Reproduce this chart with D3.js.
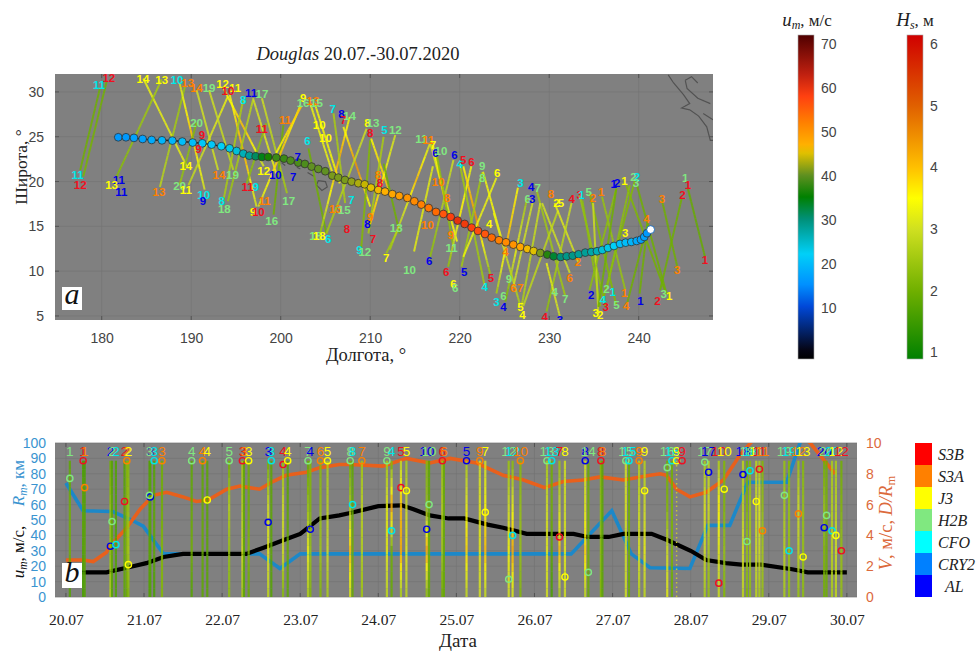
<!DOCTYPE html>
<html>
<head>
<meta charset="utf-8">
<script src="https://cdn.jsdelivr.net/npm/d3@7"></script>
<style>
	html, body { margin: 0; padding: 0; background: #fff; }
	svg { display: block; }
	text { font-family: "Liberation Serif", serif; }
	text.sans { font-family: "Liberation Sans", sans-serif; }
</style>
</head>
<body>
<div id="chart"></div>
<script>
/* --------------------- data ---------------------- */

// satellites, top to bottom as in the legend
const satNames = ['S3B', 'S3A', 'J3', 'H2B', 'CFO', 'CRY2', 'AL'];
const satColors = ['#f01020', '#ff8000', '#ffff00', '#80e880', '#00e8e8', '#0080ff', '#0000e8'];
const legendColors = ['#ff0000', '#ff8000', '#ffff00', '#80e880', '#00ffff', '#0080ff', '#0000ff'];

// storm track, 3-hourly from 20.07 (east) to 30.07 (west)
const trackLon = [241.33, 240.92, 240.62, 240.25, 239.77, 239.17, 238.54, 237.91, 237.23, 236.56,
	235.93, 235.34, 234.7, 234.03, 233.29, 232.62, 231.95, 231.28, 230.49, 229.79,
	229.0, 228.26, 227.55, 226.77, 225.99, 225.17, 224.39, 223.57, 222.82, 222.04,
	221.33, 220.55, 219.77, 218.99, 218.17, 217.35, 216.53, 215.71, 214.93, 214.15,
	213.25, 212.47, 211.65, 210.9, 210.08, 209.38, 208.67, 207.92, 207.18, 206.43,
	205.76, 204.98, 204.2, 203.45, 202.7, 201.96, 201.1, 200.36, 199.5, 198.6,
	197.9, 197.2, 196.49, 195.82, 195.07, 194.29, 193.36, 192.28, 191.24, 190.16,
	189.0, 187.89, 186.73, 185.58, 184.57, 183.6, 182.71, 181.85];
const trackLat = [14.64, 14.23, 13.82, 13.52, 13.37, 13.26, 13.18, 13.04, 12.81, 12.59,
	12.37, 12.22, 12.14, 12.07, 11.88, 11.73, 11.66, 11.59, 11.66, 11.85,
	12.03, 12.25, 12.48, 12.7, 12.96, 13.22, 13.45, 13.74, 14.15, 14.49,
	14.86, 15.27, 15.64, 16.05, 16.38, 16.61, 17.05, 17.43, 17.8, 18.17,
	18.39, 18.6, 18.88, 19.06, 19.32, 19.69, 19.81, 19.99, 20.18, 20.44,
	20.66, 21.15, 21.41, 21.67, 21.96, 22.11, 22.34, 22.56, 22.67, 22.75,
	22.75, 22.82, 22.89, 23.12, 23.41, 23.71, 23.94, 24.12, 24.27, 24.35,
	24.46, 24.57, 24.6, 24.64, 24.75, 24.87, 24.94, 24.94];
const trackUm = [16, 16, 17, 17, 18, 19, 20, 20, 22, 23, 24, 26, 27, 28, 28, 29, 29, 30, 33, 37,
	41, 45, 46, 48, 50, 51, 52, 54, 56, 57, 58, 59, 60, 58, 56, 54, 53, 52, 51, 50,
	49, 48, 47, 46, 45, 44, 43, 42, 41, 41, 41, 40, 40, 40, 39, 39, 39, 38, 38, 36,
	34, 31, 28, 26, 24, 23, 22, 21, 21, 20, 20, 19, 19, 18, 17, 17, 16, 16];

// altimeter passes on the map: lon1, lat1, lon2, lat2, then Hs along the pass
const passRows = [
	[179.8, 30.4, 177.6, 21.3, 2, 2],
	[180.55, 31.15, 177.94, 20.55, 2, 2.1],
	[184.65, 31.5, 189.5, 21.7, 3.3, 3.2],
	[186.7, 31.4, 181.5, 20.2, 2.6, 2.2],
	[189.3, 30.6, 186.5, 19.4, 2.4, 2.8],
	[188.7, 31, 191.5, 19.1, 3, 4, 3],
	[190.6, 26.6, 188.7, 19.6, 2.2, 2.4],
	[189.7, 19.6, 194.1, 29.5, 2.8, 3.3],
	[190.6, 30.2, 193, 21.3, 3, 3],
	[192, 30.2, 194.7, 21.3, 3, 2.8],
	[193.6, 30.4, 198.1, 21.7, 3.3, 4, 3],
	[194.3, 29.7, 197.3, 17.2, 3.3, 4.2, 3],
	[195.8, 29.1, 193.6, 17.9, 2.6, 2.6],
	[196.9, 29.1, 194.1, 17.8, 2.8, 2.4],
	[196.9, 29.3, 199.5, 20.9, 3, 3.3],
	[197.9, 29.3, 200.7, 18.7, 3, 2.5],
	[198.4, 26.5, 196.2, 19.8, 2.3, 2.3],
	[200.3, 26.3, 199.2, 16.3, 2, 2],
	[197.5, 17.2, 202.2, 28.5, 3, 4, 3.3],
	[199.5, 23.2, 202.3, 28.4, 3.5, 4],
	[203.3, 28.7, 205.9, 20.6, 3.3, 3.3],
	[203.8, 28.7, 206.6, 19.8, 3.4, 3.4],
	[203.1, 23.7, 205.1, 14.2, 2, 2],
	[204.4, 14.2, 207.7, 27.2, 2.3, 3.5, 4.2, 3.3],
	[205.9, 27.6, 207.2, 17.6, 2.6, 2.6],
	[207, 26.1, 210, 17.2, 3.3, 4.5, 3.3],
	[209.6, 25.9, 205.1, 14.2, 3, 2.5],
	[210, 24.6, 209, 12.7, 2.2, 2.2],
	[210.1, 24.8, 212.2, 18.7, 3.5, 4],
	[211.5, 25, 209.8, 14.2, 2.6, 2.6],
	[212.8, 25.2, 210, 15.3, 3, 3.5, 4],
	[211.5, 22, 213.3, 14.2, 2, 2],
	[213.1, 14.6, 211.8, 12, 2.5, 2.5],
	[216.7, 24.3, 219.7, 13.3, 3, 3.5],
	[212.2, 12.4, 216.7, 24.3, 2.5, 3, 4, 3],
	[217, 24.1, 218.5, 17.2, 3.4, 4],
	[217, 21.7, 214.9, 12.2, 3.2, 3.2],
	[219.3, 22.4, 216.7, 11.6, 3, 2.3],
	[217.4, 23.2, 219.3, 12.7, 2.3, 2.3],
	[221.3, 21.7, 218.7, 10.5, 3.3, 3.6, 2.3],
	[220, 22, 222.8, 8.3, 2.5, 2.5],
	[220.4, 21.7, 223.4, 9.7, 3.5, 4.5, 2.3],
	[222.5, 21, 220.2, 10.5, 2.5, 2.5],
	[224.1, 20.4, 220.4, 11.6, 3.3, 3.3],
	[222.6, 21.1, 224.7, 13.5, 3.3, 3.6],
	[223.8, 16.5, 226.7, 6.4, 3.3, 2.6],
	[226.5, 19.3, 224.1, 7.5, 3.5, 4, 2.5],
	[227.5, 18, 225.1, 6.6, 2.5, 3.3, 2],
	[228.2, 17.9, 226, 8.3, 3, 3],
	[228.6, 19, 231.8, 7.2, 2.5, 2.5],
	[229.2, 17.6, 232.3, 9.8, 3, 3],
	[229, 17.6, 226.9, 6, 3, 2.6],
	[231, 16.8, 227.1, 6.1, 2.8, 2.8],
	[230.6, 17.6, 233.3, 10.9, 3.2, 3],
	[232.5, 17.6, 229.7, 5.5, 3, 2.3],
	[229.7, 10.9, 231.2, 4.9, 3.3, 3],
	[233.4, 18.5, 236.3, 6, 2.5, 2.2],
	[233.7, 17.9, 235.7, 6.1, 2.3, 2.3],
	[234.5, 18.8, 237.5, 6.2, 2.2, 2.2],
	[234.9, 17.6, 235.5, 5.1, 3, 2.8],
	[235.9, 18.3, 238.5, 7.9, 2.4, 2.4],
	[237.5, 19.2, 234.5, 7.9, 2.3, 2.3],
	[237.5, 19.2, 235.5, 6, 2, 2],
	[238.6, 19.6, 242.9, 7.9, 2.2, 2],
	[239.6, 20.2, 236, 6.8, 2.2, 2.2],
	[239.8, 19.6, 243.1, 7.5, 2, 2],
	[239, 19.6, 236.4, 7.9, 2.3, 2.3],
	[241, 15.3, 240.1, 7.5, 2, 2],
	[241, 15.3, 238.7, 6.4, 2, 2],
	[242.6, 17.9, 244.4, 10.1, 2, 2],
	[244.8, 18.1, 242.4, 7.9, 2, 2],
	[245.5, 19.2, 247.4, 11.6, 1.9, 1.9]
];

// pass numbers on the map: satellite index, number, lon, lat
const mapLabelRows = [
	[0, 12, 180.8, 31.6], [4, 11, 179.7, 30.8], [4, 11, 177.3, 20.7], [0, 12, 177.6, 19.6],
	[2, 14, 184.6, 31.5], [2, 13, 186.7, 31.4], [4, 10, 188.4, 31.3], [1, 13, 189.6, 31],
	[1, 14, 190.6, 30.5], [3, 19, 192, 30.5], [2, 12, 193.5, 30.9], [2, 11, 194.9, 30.5],
	[0, 10, 194.1, 30.1], [6, 11, 196.7, 29.9], [4, 8, 195.8, 29.1], [3, 17, 197.9, 29.8],
	[6, 11, 181.9, 20.2], [6, 11, 182.2, 18.8], [2, 13, 181.1, 19.6], [1, 13, 186.4, 18.9],
	[3, 20, 188.7, 19.5], [2, 11, 189.4, 19.1], [3, 20, 190.6, 26.6], [2, 14, 189.4, 21.7],
	[0, 9, 191.2, 25.2], [0, 9, 190.8, 23.6], [4, 10, 191.4, 18.5], [6, 9, 191.3, 17.9],
	[1, 14, 193.1, 20.8], [3, 19, 194.6, 20.8], [4, 8, 193.4, 17.9], [3, 18, 193.7, 17],
	[0, 11, 196.3, 19.4], [4, 9, 197.2, 19.4], [0, 11, 197.9, 25.9], [1, 11, 200.5, 26.9],
	[2, 12, 198.1, 21.2], [6, 10, 199.4, 20.7], [3, 17, 200.9, 17.9], [1, 11, 198.2, 17.8],
	[2, 9, 196.9, 16.6], [0, 10, 197.5, 16.6], [3, 16, 199, 15.6], [2, 9, 202.5, 29.3],
	[3, 16, 202.5, 28.8], [1, 13, 203.6, 29], [3, 15, 204, 28.8], [4, 6, 203, 24.5],
	[6, 7, 201.9, 22.8], [6, 7, 201.4, 20.5], [2, 10, 204.3, 26.3], [2, 10, 205, 24.9],
	[4, 7, 205.8, 28.1], [6, 8, 206.8, 27.5], [0, 7, 207, 26.9], [3, 14, 207.7, 27.3],
	[4, 7, 207.9, 18], [1, 13, 206.1, 17], [3, 15, 207.1, 16.8], [0, 8, 207.4, 14.7],
	[3, 18, 203.9, 13.9], [2, 18, 204.3, 13.9], [4, 6, 205.3, 13.6], [2, 8, 209.7, 26.6],
	[3, 13, 210.3, 26.6], [0, 8, 210, 25.4], [4, 5, 211.6, 25.8], [3, 12, 212.8, 25.8],
	[6, 8, 209.7, 15.3], [1, 9, 210, 16.1], [0, 7, 210.3, 13.6], [4, 9, 208.8, 12.4],
	[3, 12, 209.4, 12.2], [2, 7, 211.8, 11.5], [1, 8, 210.9, 20.7], [0, 8, 211.1, 19.8],
	[3, 13, 212.9, 14.8], [3, 11, 215.7, 24.8], [1, 11, 216.5, 24.6], [2, 7, 217, 24.1],
	[6, 6, 217.3, 23.2], [3, 10, 217.9, 23.4], [6, 6, 219.4, 23], [4, 4, 220, 22],
	[0, 5, 220.4, 22.4], [0, 6, 221.3, 22.2], [3, 9, 222.5, 21.7], [3, 8, 222.5, 20.4],
	[2, 6, 224.2, 21], [4, 3, 226.8, 19.9], [6, 4, 228, 19.4], [3, 7, 228.7, 19.3],
	[3, 6, 227.6, 18.1], [6, 3, 228.1, 18.1], [1, 8, 230.2, 18.6], [2, 2, 230.8, 17.6],
	[2, 5, 231.3, 17.6], [0, 4, 232.5, 18.1], [0, 3, 233.4, 18.5], [4, 1, 233.6, 18.5],
	[3, 5, 234.4, 18.8], [1, 2, 234.9, 18.2], [1, 1, 235.8, 18.8], [6, 1, 237.2, 19.7],
	[6, 2, 237.6, 19.9], [2, 1, 238.4, 20.1], [3, 2, 239.4, 20.5], [4, 2, 239.8, 20.5],
	[3, 3, 239.7, 19.9], [1, 3, 242.6, 18.1], [0, 2, 244.9, 18.5], [3, 1, 245.2, 20.4],
	[0, 1, 245.5, 19.6], [0, 1, 247.4, 11.3], [1, 3, 244.3, 10.2], [1, 4, 240.9, 15.8],
	[2, 3, 238.5, 14.3], [1, 10, 216.4, 15.2], [3, 10, 214.4, 10.2], [6, 6, 216.6, 11.2],
	[1, 10, 217.6, 20], [1, 9, 219, 14], [3, 11, 219.1, 12.6], [1, 8, 218.6, 18.2],
	[0, 6, 218.5, 9.9], [6, 5, 220.5, 9.9], [2, 6, 219.3, 8.6], [3, 6, 219.5, 8.1],
	[4, 4, 222.8, 8.3], [0, 5, 223.5, 9.3], [2, 4, 223.3, 15.3], [1, 4, 225.1, 12.1],
	[3, 9, 225.5, 9.1], [1, 6, 226, 8.1], [1, 7, 226.8, 8.1], [4, 3, 224.1, 6.6],
	[3, 6, 224.9, 7.2], [6, 4, 224.9, 6], [2, 5, 226.8, 6], [2, 4, 227, 5.1],
	[0, 4, 229.5, 4.9], [6, 3, 231.2, 4.6], [3, 4, 230.6, 7.7], [3, 7, 231.8, 6.9],
	[1, 6, 232.3, 9.2], [1, 2, 233.2, 11], [6, 2, 234.7, 7.3], [3, 2, 236.4, 8],
	[4, 4, 236, 6.8], [4, 1, 237.1, 7.7], [1, 1, 238.4, 7.6], [3, 5, 237.5, 6.2],
	[0, 3, 236.3, 6], [2, 3, 235.2, 5.3], [2, 2, 235.7, 5.1], [1, 4, 238.6, 6.1],
	[6, 1, 240.2, 6.7], [0, 2, 242.1, 6.7], [3, 3, 242.8, 7.5], [2, 1, 243.4, 7.2]
];

// coast and islands, lon/lat
const coastLines = [
	[[243.3, 31.9], [243.9, 31], [245, 29.7], [245.7, 28.7], [244.8, 28.2], [245.7, 28], [246.7, 27.3], [247.6, 26.1], [248, 24.6], [248.3, 24.6]],
	[[245.2, 31.3], [245.4, 30.4], [246.6, 29.3], [248, 28.7]],
	[[245.2, 31.3], [245.9, 31.7], [246.6, 31]],
	[[247.2, 27.6], [248.3, 26.9]],
	[[204, 19.6], [204.2, 20.1], [205, 20], [205.2, 19.4], [204.6, 19], [204, 19.6]],
	[[200.1, 22.1], [200.5, 21.8]],
	[[201.8, 21.6], [202.2, 21.4]],
	[[203, 21], [203.7, 20.6]]
];

// panel b, time series; day 0 is 20.07
const umDays = [0, 0.22, 0.52, 0.86, 1.03, 1.25, 1.5, 2.31, 2.53, 2.79, 3, 3.25, 3.5, 3.64, 4.0, 4.3, 4.45, 4.66, 4.9, 5.1, 5.4, 5.6, 5.9, 6.2, 6.5, 6.68, 6.95, 7.14, 7.5, 7.7, 8.0, 8.2, 8.45, 8.65, 8.9, 9.3, 9.5, 10];
const umValues = [16, 16, 16, 20, 22, 26, 28, 28, 32, 37, 41, 51, 53, 54.5, 59, 59.5, 57, 53, 51, 51, 47, 45, 41, 41, 41, 39, 39, 41, 41, 37, 30, 24, 22, 21, 21, 18, 16, 16];
const rmDays = [0, 0.22, 0.6, 0.84, 0.99, 1.25, 2.48, 2.74, 3, 6.47, 6.99, 7.24, 7.48, 7.99, 8.22, 8.5, 8.73, 9.23, 9.4, 9.55];
const rmValues = [74, 56, 55.5, 50, 46, 28, 28, 18.5, 28, 28, 56, 28, 19, 18.5, 46.5, 46.5, 74.5, 74.5, 100, 115];
const vDays = [0, 0.22, 0.35, 0.52, 0.56, 0.78, 0.95, 1.12, 1.29, 1.5, 1.67, 1.82, 2.06, 2.23, 2.48, 2.65, 2.82, 3.08, 3.25, 3.5,
	3.64, 4.06, 4.36, 4.66, 4.92, 5.26, 5.6, 5.86, 6.13, 6.37, 6.62, 6.84, 7.14, 7.48, 7.61, 7.69, 7.82, 7.99, 8.2, 8.42, 8.63, 8.8, 9.4, 9.53, 9.85];
const vValues = [2.4, 2.4, 2.3, 2.9, 3.3, 4.5, 5.7, 6.6, 6.8, 6.5, 6.2, 6.3, 7, 7.2, 7, 7.5, 7.9, 8.1, 8.4, 8.6,
	8.6, 8.5, 9, 8.7, 9, 8.7, 7.9, 7.6, 7.1, 7.5, 7.6, 7.8, 7.6, 7.9, 8, 7.9, 7, 6.5, 6.8, 7.6, 9.2, 10.2, 10.6, 10, 8];

// panel b, passes: day, satellite index, number, marker D/Rm (null = none), Hs from bottom to top
const timePassRows = [
	[0.05, 3, 1, 7.7, 1.7, 2, 2, 1.8], [0.22, 0, 1, 8.85, 1.6, 1.7, 1.8, 1.6], [0.24, 1, 1, 7.1, 1.7, 1.8, 1.7, 1.6],
	[0.57, 6, 2, 3.3, 2.8, 2.4, 2.4, 2], [0.59, 3, 2, 4.9, 1.7, 1.9, 1.8, 1.7], [0.64, 4, 2, 3.4, 1.7, 1.7, 1.7, 1.7],
	[0.75, 0, 2, 6.2, 1.8, 1.9, 1.8, 1.7], [0.78, 1, 2, 8.85, 1.9, 2.2, 2.2, 2.2], [0.8, 2, 2, 2.1, 2.2, 2.6, 2.4, 2.2],
	[1.08, 6, 3, 6.5, 1.7, 1.7, 1.7, 1.7], [1.07, 3, 3, 6.6, 1.7, 1.8, 1.8, 1.7], [1.13, 4, 3, 8.85, 1.6, 1.8, 1.8, 1.7],
	[1.23, 1, 3, 8.85, 2.2, 2.2, 2, 2], [1.61, 3, 4, 8.85, 1.7, 2, 1.9, 1.8], [1.75, 1, 4, 8.85, 1.8, 1.9, 1.9, 1.8],
	[1.81, 2, 4, 6.3, 1.8, 1.8, 1.8, 1.8], [2.09, 3, 5, 8.85, 2.3, 2.4, 2.7, 2], [2.26, 0, 3, 8.85, 2.6, 3.1, 2.8, 2.6],
	[2.28, 1, 3, null, 1.8, 1.8, 1.8, 1.8], [2.34, 2, 3, 8.85, 1.9, 2.2, 2, 2], [2.59, 6, 3, 4.85, 2.8, 3.2, 3, 2],
	[2.63, 4, 3, 8.85, 1.7, 1.8, 1.8, 1.8], [2.78, 0, 4, 8.6, 2.2, 3, 3, 2.4], [2.84, 2, 4, 8.85, 1.8, 1.9, 1.8, 1.7],
	[3.1, 3, 7, 8.85, 2.6, 3.3, 2.4, 1.9], [3.13, 6, 4, 4.4, 2.2, 2.4, 2.2, 2.2], [3.26, 1, 6, 8.85, 2.2, 2.5, 2.4, 2.2],
	[3.35, 2, 5, 8.85, 2.6, 3, 2.8, 2.6], [3.64, 3, 8, 8.85, 3, 4, 2.6, 2], [3.67, 4, 8, 6, 1.9, 2, 1.9, 1.8],
	[3.79, 1, 7, 8.85, 2.5, 2.7, 2.8, 2.5], [4.11, 3, 9, 8.85, 2.8, 3.2, 3.2, 2.5], [4.17, 4, 4, 4.3, 1.9, 2, 4.3, 2],
	[4.29, 0, 5, 7.1, 2.5, 4.2, 4, 2.8], [4.36, 2, 5, 6.9, 2.8, 3.2, 3, 2.6], [4.62, 6, 10, 4.4, 2.2, 4.2, 2.4, 2.2],
	[4.65, 3, 10, 6, 1.9, 2, 1.9, 1.8], [4.82, 0, 6, 8.85, 2, 2.6, 2.8, 2.5], [4.84, 1, 6, null, 1.9, 1.9, 1.9, 1.9],
	[5.13, 6, 5, 8.85, 2.8, 3.8, 3.3, 2.6], [5.3, 1, 9, 8.85, 3, 3.2, 3.2, 3], [5.37, 2, 7, 5.5, 2.8, 4, 3.5, 3],
	[5.67, 3, 12, 1.15, 3, 3.4, 3, 2.4], [5.72, 4, 12, 4, 3, 4.2, 3.3, 2.2], [5.82, 1, 10, 8.85, 2.2, 2.4, 2.4, 2.2],
	[6.16, 3, 13, 8.85, 3, 3.2, 3, 2.6], [6.22, 4, 13, 8.85, 1.6, 1.8, 2, 2], [6.32, 0, 7, 3.9, 2.6, 4, 3, 2.4],
	[6.39, 2, 8, 1.3, 3, 3.2, 3, 3], [6.65, 6, 8, 8.85, 2.8, 3.8, 3.2, 3], [6.69, 3, 14, 1.6, 1.9, 2, 2, 1.9],
	[6.85, 0, 8, 8.85, 2.2, 2.3, 2.3, 2.2], [6.87, 1, 8, null, 1.8, 1.8, 1.8, 1.8], [7.17, 3, 15, 8.85, 3, 3, 3.1, 3],
	[7.21, 4, 15, 8.85, 1.9, 2, 2, 1.9], [7.34, 1, 9, 8.85, 2.7, 3.1, 2.9, 2.7], [7.41, 2, 9, 6.9, 2.8, 3.3, 3, 2.7],
	[7.7, 3, 16, 8.4, 3.2, 3, 2.2, 2], [7.76, 4, 16, 8.85, 1.9, 2.1, 2.1, 2], [8.18, 3, 17, 8.76, 2.6, 3, 3.1, 2.6],
	[8.23, 6, 17, 8.1, 2.4, 2.6, 3, 2.8], [8.36, 0, 10, 0.9, 2.9, 3.2, 3.6, 2.6], [8.43, 2, 10, 7, 2.2, 2.4, 2.2, 2.2],
	[8.67, 6, 18, 7.95, 2.8, 3.1, 2.8, 2.8], [8.72, 3, 18, 3.6, 2.2, 2.4, 2.2, 2], [8.76, 4, 18, 8.2, 2.3, 2.5, 2.5, 2.2],
	[8.84, 2, 11, 6.2, 2.8, 3, 3, 2.8], [8.88, 0, 11, 8.3, 2.6, 3, 3.2, 2.6], [8.92, 1, 11, 4.3, 2.4, 2.6, 2.4, 2.2],
	[9.2, 3, 19, 6.6, 2.6, 2.8, 2.6, 2.4], [9.26, 4, 19, 3, 2.4, 2.4, 2.4, 2.2], [9.38, 1, 12, 5.4, 2.4, 2.8, 3, 2.4],
	[9.44, 2, 13, 2.6, 2.3, 2.4, 2.4, 2.2], [9.71, 6, 20, 4.5, 2, 2.2, 2.4, 2], [9.74, 3, 20, 5.3, 2, 2, 2.1, 2],
	[9.81, 4, 20, 4.3, 2.6, 2.8, 2.7, 2.6], [9.86, 2, 12, 4, 2.8, 3, 2.8, 2.6], [9.93, 0, 12, 3, 2.4, 2.4, 2.2, 2]
];

// dotted J3 pass without a full trace, and its S3B neighbour
const dottedPassDays = [7.82];
const dottedPassMarkers = [[7.82, 2, 8.85], [7.89, 0, 8.85]];
const dottedPassLabels = [[7.82, 2, 9], [7.89, 0, 9]];

const dateTicks = ['20.07', '21.07', '22.07', '23.07', '24.07', '25.07', '26.07', '27.07', '28.07', '29.07', '30.07'];

// colormap stops
const umStops = [-2, 0, 10, 15, 22, 30, 35, 40, 45, 47, 52, 58, 63, 72];
const umColors = ['#000000', '#050514', '#0048d8', '#0090ff', '#00d0f8', '#009078', '#008000', '#609020', '#e0c000', '#ffb000', '#ff8000', '#ff4010', '#c02010', '#500000'];
const hsStops = [0.89, 2, 3, 3.5, 4, 5, 6.15];
const hsColors = ['#008000', '#70b000', '#d0e020', '#ffff00', '#ffc000', '#e06000', '#d00000'];

/* --------------------- setup ---------------------- */

const width = 978, height = 651;
const gray = '#808080', gridColor = '#747474', tickColor = '#4a4a4a';
const blue = '#3a94d0', orange = '#dc6a3c';
const textGray = '#444';

const svg = d3.select('#chart').append('svg').attr('width', width).attr('height', height);
const defs = svg.append('defs');

defs.append('filter').attr('id', 'soft')
	.append('feGaussianBlur').attr('stdDeviation', 0.5);

const umColor = d3.scaleLinear().domain(umStops).range(umColors).clamp(true);
const hsColor = d3.scaleLinear().domain(hsStops).range(hsColors).clamp(true);

function addClip(id, x, y, w, h) {
	defs.append('clipPath').attr('id', id)
		.append('rect').attr('x', x).attr('y', y).attr('width', w).attr('height', h);
}

function styleAxis(g, color, size, family) {
	g.select('.domain').remove();
	g.selectAll('line').remove();
	g.selectAll('text').attr('fill', color).style('font-size', size + 'px').style('font-family', family);
}

// short dark ticks inside the frame, all four sides
function edgeTicks(box, xValues, xScale, yValues, yScale) {
	let g = svg.append('g').attr('stroke', tickColor).attr('stroke-width', 0.8);
	[box.top, box.bottom].forEach(function(y, k) {
		g.append('g').selectAll('line').data(xValues).enter().append('line')
			.attr('x1', d => xScale(d)).attr('x2', d => xScale(d))
			.attr('y1', y).attr('y2', k === 0 ? y + 4 : y - 4);
	});
	[box.left, box.right].forEach(function(x, k) {
		g.append('g').selectAll('line').data(yValues).enter().append('line')
			.attr('y1', d => yScale(d)).attr('y2', d => yScale(d))
			.attr('x1', x).attr('x2', k === 0 ? x + 4 : x - 4);
	});
}

// panel letter in its white box
function panelLetter(x, y, w, h, letter) {
	svg.append('rect').attr('x', x).attr('y', y).attr('width', w).attr('height', h).attr('fill', '#fff');
	svg.append('text').attr('x', x + w / 2).attr('y', y + h - 6).attr('text-anchor', 'middle')
		.attr('font-style', 'italic').attr('font-size', 30).attr('fill', '#111').text(letter);
}

// one pass, split in short pieces coloured by Hs
function hsPieces(x1, y1, x2, y2, hs) {
	let t = d3.range(0, 17).map(d => d / 16);
	let hsAt = d3.piecewise(d3.interpolateNumber, hs);
	return d3.pairs(t).map(p => ({
		x1: x1 + (x2 - x1) * p[0], y1: y1 + (y2 - y1) * p[0],
		x2: x1 + (x2 - x1) * p[1], y2: y1 + (y2 - y1) * p[1],
		color: hsColor(hsAt((p[0] + p[1]) / 2))
	}));
}

/* --------------------- panel a ---------------------- */

const mapBox = {left: 55, right: 713, top: 74, bottom: 320};
const lonScale = d3.scaleLinear().domain([174.78, 248.3]).range([mapBox.left, mapBox.right]);
const latScale = d3.scaleLinear().domain([32, 4.55]).range([mapBox.top, mapBox.bottom]);
const lonTicks = d3.range(180, 250, 10);
const latTicks = d3.range(5, 35, 5);

addClip('mapClip', mapBox.left, mapBox.top, mapBox.right - mapBox.left, mapBox.bottom - mapBox.top);

svg.append('rect').attr('x', mapBox.left).attr('y', mapBox.top)
	.attr('width', mapBox.right - mapBox.left).attr('height', mapBox.bottom - mapBox.top).attr('fill', gray);

const mapGrid = svg.append('g').attr('stroke', gridColor).attr('stroke-width', 0.7);
mapGrid.selectAll('.v').data(lonTicks).enter().append('line')
	.attr('x1', d => lonScale(d)).attr('x2', d => lonScale(d)).attr('y1', mapBox.top).attr('y2', mapBox.bottom);
mapGrid.selectAll('.h').data(latTicks).enter().append('line')
	.attr('y1', d => latScale(d)).attr('y2', d => latScale(d)).attr('x1', mapBox.left).attr('x2', mapBox.right);
edgeTicks(mapBox, lonTicks, lonScale, latTicks, latScale);

const mapLayer = svg.append('g').attr('clip-path', 'url(#mapClip)').append('g').attr('filter', 'url(#soft)');

const coastLine = d3.line().x(d => lonScale(d[0])).y(d => latScale(d[1]));
mapLayer.selectAll('.coast').data(coastLines).enter().append('path')
	.attr('d', coastLine).attr('fill', 'none').attr('stroke', '#525252').attr('stroke-width', 1.2);

passRows.forEach(function(row) {
	let pieces = hsPieces(lonScale(row[0]), latScale(row[1]), lonScale(row[2]), latScale(row[3]), row.slice(4));
	mapLayer.append('g').selectAll('line').data(pieces).enter().append('line')
		.attr('x1', d => d.x1).attr('y1', d => d.y1).attr('x2', d => d.x2).attr('y2', d => d.y2)
		.attr('stroke', d => d.color).attr('stroke-width', 2).attr('stroke-opacity', 0.85).attr('stroke-linecap', 'butt');
});

const trackPoints = trackLon.map((lon, i) => ({lon: lon, lat: trackLat[i], um: trackUm[i]}));

mapLayer.append('path').datum(trackPoints)
	.attr('d', d3.line().x(d => lonScale(d.lon)).y(d => latScale(d.lat)))
	.attr('fill', 'none').attr('stroke', '#222').attr('stroke-width', 1.5);

mapLayer.selectAll('.dot').data(trackPoints.slice().reverse()).enter().append('circle')
	.attr('cx', d => lonScale(d.lon)).attr('cy', d => latScale(d.lat)).attr('r', 3.9)
	.attr('fill', (d, i) => i === trackPoints.length - 1 ? '#fff' : umColor(d.um))
	.attr('stroke', (d, i) => i === trackPoints.length - 1 ? '#0060c0' : '#333').attr('stroke-width', 0.8);

svg.append('g').attr('clip-path', 'url(#mapClip)').selectAll('.maplabel').data(mapLabelRows).enter().append('text')
	.attr('class', 'sans')
	.attr('x', d => lonScale(d[2])).attr('y', d => latScale(d[3]))
	.attr('dy', '0.36em').attr('text-anchor', 'middle').attr('font-size', 11.5).attr('font-weight', 'bold')
	.attr('fill', d => satColors[d[0]]).text(d => d[1]);

const mapXAxis = svg.append('g').attr('transform', 'translate(0,' + mapBox.bottom + ')')
	.call(d3.axisBottom(lonScale).tickValues(lonTicks).tickSizeOuter(0).tickPadding(7));
styleAxis(mapXAxis, textGray, 14, '"Liberation Sans", sans-serif');

const mapYAxis = svg.append('g').attr('transform', 'translate(' + mapBox.left + ',0)')
	.call(d3.axisLeft(latScale).tickValues(latTicks).tickSizeOuter(0).tickPadding(5));
styleAxis(mapYAxis, textGray, 14, '"Liberation Sans", sans-serif');

panelLetter(62, 287, 20, 23, 'a');

const mapTitle = svg.append('text').attr('x', 358).attr('y', 60).attr('text-anchor', 'middle').attr('font-size', 18.5).attr('fill', '#222');
mapTitle.append('tspan').attr('font-style', 'italic').text('Douglas');
mapTitle.append('tspan').text(' 20.07.-30.07.2020');

svg.append('text').attr('x', 366).attr('y', 361).attr('text-anchor', 'middle').attr('font-size', 18.5).attr('fill', '#222').text('Долгота, °');
svg.append('text').attr('transform', 'translate(27,167) rotate(-90)').attr('text-anchor', 'middle').attr('font-size', 17.5).attr('fill', '#222').text('Широта, °');

/* --------------------- colour bars ---------------------- */

function colorBar(id, x, scaleY, stops, colors, ticks) {
	let barTop = 35, barBottom = 359;
	let grad = defs.append('linearGradient').attr('id', id).attr('x1', 0).attr('x2', 0).attr('y1', 1).attr('y2', 0);
	let lo = stops[0], hi = stops[stops.length - 1];
	grad.selectAll('stop').data(stops).enter().append('stop')
		.attr('offset', d => (d - lo) / (hi - lo))
		.attr('stop-color', (d, i) => colors[i]);
	svg.append('rect').attr('x', x).attr('y', barTop).attr('width', 16).attr('height', barBottom - barTop)
		.attr('fill', 'url(#' + id + ')').attr('stroke', '#aaa').attr('stroke-width', 0.6);
	let axis = svg.append('g').attr('transform', 'translate(' + (x + 16) + ',0)')
		.call(d3.axisRight(scaleY).tickValues(ticks).tickFormat(d3.format('d')).tickPadding(1));
	styleAxis(axis, textGray, 14, '"Liberation Sans", sans-serif');
}

const umBarY = d3.scaleLinear().domain([10, 70]).range([308.3, 44.3]);
const hsBarY = d3.scaleLinear().domain([1, 6]).range([352.3, 44.3]);
colorBar('umGrad', 798, umBarY, umStops, umColors, [10, 20, 30, 40, 50, 60, 70]);
colorBar('hsGrad', 907, hsBarY, hsStops, hsColors, [1, 2, 3, 4, 5, 6]);

function mathTitle(x, y, letter, sub, rest) {
	let t = svg.append('text').attr('x', x).attr('y', y).attr('text-anchor', 'middle').attr('font-size', 17).attr('fill', '#222');
	t.append('tspan').attr('font-style', 'italic').attr('font-size', 19).text(letter);
	t.append('tspan').attr('font-style', 'italic').attr('font-size', 12).attr('dy', 3).text(sub);
	t.append('tspan').attr('dy', -3).text(rest);
}
mathTitle(807, 26, 'u', 'm', ', м/с');
mathTitle(915, 26, 'H', 's', ', м');

/* --------------------- panel b ---------------------- */

const timeBox = {left: 55, right: 857, top: 443, bottom: 597};
const dayScale = d3.scaleLinear().domain([-0.14, 10.13]).range([timeBox.left, timeBox.right]);
const leftScale = d3.scaleLinear().domain([0, 100]).range([timeBox.bottom, timeBox.top]);
const rightScale = d3.scaleLinear().domain([0, 10]).range([timeBox.bottom, timeBox.top]);
const dayTicks = d3.range(0, 11);
const leftTicks = d3.range(0, 110, 10);

addClip('timeClip', timeBox.left, timeBox.top, timeBox.right - timeBox.left, timeBox.bottom - timeBox.top);

svg.append('rect').attr('x', timeBox.left).attr('y', timeBox.top)
	.attr('width', timeBox.right - timeBox.left).attr('height', timeBox.bottom - timeBox.top).attr('fill', gray);

const timeGrid = svg.append('g').attr('stroke', gridColor).attr('stroke-width', 0.7);
timeGrid.selectAll('.v').data(dayTicks).enter().append('line')
	.attr('x1', d => dayScale(d)).attr('x2', d => dayScale(d)).attr('y1', timeBox.top).attr('y2', timeBox.bottom);
timeGrid.selectAll('.h').data(leftTicks).enter().append('line')
	.attr('y1', d => leftScale(d)).attr('y2', d => leftScale(d)).attr('x1', timeBox.left).attr('x2', timeBox.right);
edgeTicks(timeBox, dayTicks, dayScale, [], leftScale);

const timeLayer = svg.append('g').attr('clip-path', 'url(#timeClip)').append('g').attr('filter', 'url(#soft)');

function seriesPath(days, values, scale, color, w) {
	let line = d3.line().x(d => dayScale(d[0])).y(d => scale(d[1]));
	timeLayer.append('path').datum(days.map((d, i) => [d, values[i]]))
		.attr('d', line).attr('fill', 'none').attr('stroke', color).attr('stroke-width', w);
}

seriesPath(rmDays, rmValues, leftScale, '#1e88c8', 3.6);
seriesPath(vDays, vValues, rightScale, '#e8601c', 3.6);
seriesPath(umDays, umValues, leftScale, '#000', 4.2);

// vertical passes from the bottom up to the marker row
timePassRows.forEach(function(row) {
	let x = dayScale(row[0]);
	let pieces = hsPieces(x, rightScale(0), x, rightScale(8.85), row.slice(4));
	timeLayer.append('g').selectAll('line').data(pieces).enter().append('line')
		.attr('x1', d => d.x1).attr('y1', d => d.y1).attr('x2', d => d.x2).attr('y2', d => d.y2)
		.attr('stroke', d => d.color).attr('stroke-width', 2.2).attr('stroke-opacity', 0.85);
});

timeLayer.selectAll('.dotted').data(dottedPassDays).enter().append('line')
	.attr('x1', d => dayScale(d)).attr('x2', d => dayScale(d))
	.attr('y1', rightScale(0)).attr('y2', rightScale(8.85))
	.attr('stroke', '#c8c830').attr('stroke-width', 1.4).attr('stroke-dasharray', '1.5 3');

const markerRows = timePassRows.filter(d => d[3] !== null).map(d => [d[0], d[1], d[3]]).concat(dottedPassMarkers);
timeLayer.selectAll('.marker').data(markerRows).enter().append('circle')
	.attr('cx', d => dayScale(d[0])).attr('cy', d => rightScale(d[2])).attr('r', 3.1)
	.attr('fill', 'none').attr('stroke', d => satColors[d[1]]).attr('stroke-width', 1.4);

const topLabelRows = timePassRows.map(d => [d[0], d[1], d[2]]).concat(dottedPassLabels);
svg.append('g').selectAll('text').data(topLabelRows).enter().append('text')
	.attr('class', 'sans')
	.attr('x', d => dayScale(d[0])).attr('y', rightScale(9.5))
	.attr('dy', '0.36em').attr('text-anchor', 'middle').attr('font-size', 13.5)
	.attr('fill', d => satColors[d[1]]).text(d => d[2]);

const dateAxis = svg.append('g').attr('transform', 'translate(0,' + timeBox.bottom + ')')
	.call(d3.axisBottom(dayScale).tickValues(dayTicks).tickFormat((d, i) => dateTicks[i]).tickPadding(11));
styleAxis(dateAxis, '#222', 15.5, '"Liberation Serif", serif');

const leftAxis = svg.append('g').attr('transform', 'translate(' + timeBox.left + ',0)')
	.call(d3.axisLeft(leftScale).tickValues(leftTicks).tickPadding(3));
styleAxis(leftAxis, blue, 14, '"Liberation Sans", sans-serif');

const rightAxis = svg.append('g').attr('transform', 'translate(' + timeBox.right + ',0)')
	.call(d3.axisRight(rightScale).tickValues(d3.range(0, 12, 2)).tickPadding(3));
styleAxis(rightAxis, orange, 14, '"Liberation Sans", sans-serif');

panelLetter(62, 563, 20, 25, 'b');

svg.append('text').attr('x', 458).attr('y', 647).attr('text-anchor', 'middle').attr('font-size', 19).attr('fill', '#222').text('Дата');

// rotated axis titles
function rotatedTitle(x, y, color, size, parts) {
	let t = svg.append('text').attr('transform', 'translate(' + x + ',' + y + ') rotate(-90)')
		.attr('text-anchor', 'middle').attr('font-size', size).attr('fill', color);
	parts.forEach(function(p) {
		let s = t.append('tspan').text(p[0]);
		if (p[1]) s.attr('font-style', 'italic');
		if (p[2]) s.attr('font-size', size * 0.68).attr('dy', 3);
		if (p[3]) s.attr('dy', -3);
	});
}
rotatedTitle(24, 552, '#111', 17, [['u', 1], ['m', 1, 1], [', м/с,', 0, 0, 1]]);
rotatedTitle(24, 483, blue, 17, [['R', 1], ['m', 1, 1], [', км', 0, 0, 1]]);
rotatedTitle(892, 523, orange, 18.5, [['V', 1], [', м/с,  ', 0], ['D/R', 1], ['m', 0, 1]]);

/* --------------------- satellite legend ---------------------- */

const legendY = d3.scaleBand().domain(satNames).range([443, 597]);

svg.append('g').selectAll('rect').data(satNames).enter().append('rect')
	.attr('x', 915).attr('y', d => legendY(d)).attr('width', 17).attr('height', legendY.bandwidth())
	.attr('fill', (d, i) => legendColors[i]);

svg.append('g').selectAll('text').data(satNames).enter().append('text')
	.attr('x', d => d === 'AL' ? 945 : 938).attr('y', d => legendY(d) + legendY.bandwidth() / 2)
	.attr('dy', '0.35em').attr('font-style', 'italic')
	.attr('font-size', 16).attr('fill', '#222').text(d => d);
</script>
</body>
</html>
